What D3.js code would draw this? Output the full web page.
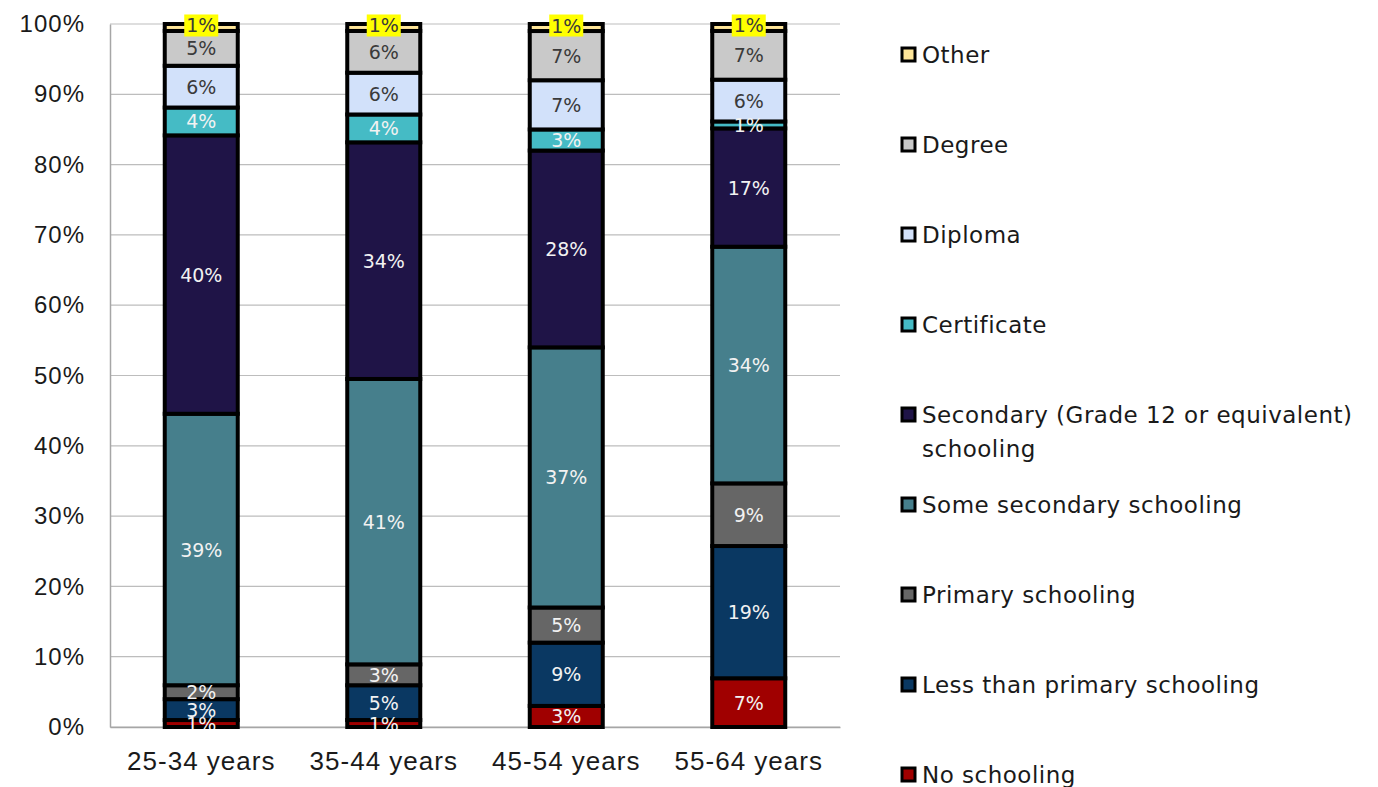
<!DOCTYPE html>
<html>
<head>
<meta charset="utf-8">
<script src="https://cdn.jsdelivr.net/npm/d3@7"></script>
<style>
  html, body { margin: 0; padding: 0; background: #fff; }
  svg { display: block; font-family: "DejaVu Sans", sans-serif; }
</style>
</head>
<body>
<svg id="chart" width="1378" height="787"></svg>
<script>
// Age groups along the x axis
const ageGroups = ["25-34 years", "35-44 years", "45-54 years", "55-64 years"];

// Education levels, stacked bottom to top
const levels = [
  "No schooling",
  "Less than primary schooling",
  "Primary schooling",
  "Some secondary schooling",
  "Secondary (Grade 12 or equivalent) schooling",
  "Certificate",
  "Diploma",
  "Degree",
  "Other"
];

// Share (%) of each level per age group
const noSchooling      = [1, 1, 3, 7];
const lessThanPrimary  = [3, 5, 9, 19];
const primary          = [2, 3, 5, 9];
const someSecondary    = [39, 41, 37, 34];
const secondary        = [40, 34, 28, 17];
const certificate      = [4, 4, 3, 1];
const diploma          = [6, 6, 7, 6];
const degree           = [5, 6, 7, 7];
const other            = [1, 1, 1, 1];

const yTicks = [0, 0.1, 0.2, 0.3, 0.4, 0.5, 0.6, 0.7, 0.8, 0.9, 1.0];

const colors = ["#A00000", "#0A3862", "#666666", "#467F8C", "#1F1447",
                "#45BBC5", "#D2E1FA", "#C9C9C9", "#FFE699"];
const lightText = [false, false, false, false, false, false, true, true, true];

const seriesValues = [noSchooling, lessThanPrimary, primary, someSecondary,
                      secondary, certificate, diploma, degree, other];

const rows = ageGroups.map((g, i) => {
  const r = { group: g };
  levels.forEach((l, k) => { r[l] = seriesValues[k][i]; });
  return r;
});

const stacked = d3.stack().keys(levels).offset(d3.stackOffsetExpand)(rows);

const svg = d3.select("#chart");
const plotLeft = 110, plotRight = 840, plotTop = 24, plotBottom = 727;

const x = d3.scaleBand().domain(ageGroups).range([plotLeft, plotRight])
  .paddingInner(0.6).paddingOuter(0.3);
const y = d3.scaleLinear().domain([0, 1]).range([plotBottom, plotTop]);

// gridlines
svg.append("g").selectAll("line").data(yTicks).join("line")
  .attr("x1", plotLeft).attr("x2", plotRight)
  .attr("y1", d => y(d)).attr("y2", d => y(d))
  .attr("stroke", "#bdbdbd").attr("stroke-width", 1.2);

// y axis
const yAxis = svg.append("g").attr("transform", `translate(${plotLeft},0)`)
  .call(d3.axisLeft(y).tickValues(yTicks).tickFormat(d3.format(".0%")).tickSize(0).tickPadding(25));
yAxis.select(".domain").attr("stroke", "#a6a6a6").attr("stroke-width", 1.5);
yAxis.selectAll("text").attr("font-size", 24).attr("letter-spacing", 1)
  .attr("fill", "#1a1a1a");

// x axis
const xAxis = svg.append("g").attr("transform", `translate(0,${plotBottom})`)
  .call(d3.axisBottom(x).tickSize(0).tickPadding(25));
xAxis.select(".domain").attr("stroke", "#a6a6a6").attr("stroke-width", 1.5);
xAxis.selectAll("text").attr("font-size", 26).attr("letter-spacing", 1)
  .attr("fill", "#1a1a1a");

// stacked segments
const layers = svg.append("g").selectAll("g").data(stacked).join("g")
  .attr("fill", (d, i) => colors[i]);
layers.selectAll("rect").data(d => d).join("rect")
  .attr("x", d => x(d.data.group))
  .attr("width", x.bandwidth())
  .attr("y", d => y(d[1]))
  .attr("height", d => y(d[0]) - y(d[1]))
  .attr("stroke", "#000").attr("stroke-width", 4);

// value labels
svg.append("defs").append("clipPath").attr("id", "lblclip")
  .append("rect").attr("x", 0).attr("y", 0).attr("width", 1378).attr("height", plotBottom + 2);

const lbl = svg.append("g").attr("clip-path", "url(#lblclip)");
stacked.forEach((layer, k) => {
  layer.forEach((d, i) => {
    const cx = x(d.data.group) + x.bandwidth() / 2;
    let cy = (y(d[0]) + y(d[1])) / 2;
    const txt = seriesValues[k][i] + "%";
    if (k === levels.length - 1) {
      cy -= 2;
      const w = 34, h = 22;
      lbl.append("rect").attr("x", cx - w / 2).attr("y", cy - h / 2)
        .attr("width", w).attr("height", h).attr("fill", "#FFFF00");
    }
    lbl.append("text").attr("x", cx).attr("y", cy)
      .attr("text-anchor", "middle").attr("dominant-baseline", "central")
      .attr("font-size", 19)
      .attr("fill", lightText[k] ? "#3a3a3a" : "#f2f2f2")
      .text(txt);
  });
});

// legend (top to bottom: Other ... No schooling)
const legendItems = levels.map((l, i) => ({ label: l, color: colors[i] })).reverse();
const lg = svg.append("g");
legendItems.forEach((item, j) => {
  const cy = 55 + j * 90;
  lg.append("rect").attr("x", 902).attr("y", cy - 7).attr("width", 13).attr("height", 13)
    .attr("fill", item.color).attr("stroke", "#000").attr("stroke-width", 3);
  const t = lg.append("text").attr("x", 922).attr("y", cy)
    .attr("dominant-baseline", "central").attr("font-size", 23)
    .attr("letter-spacing", 0.5).attr("fill", "#1a1a1a");
  if (item.label.startsWith("Secondary")) {
    t.append("tspan").attr("x", 922).text("Secondary (Grade 12 or equivalent)");
    t.append("tspan").attr("x", 922).attr("dy", 34).text("schooling");
  } else {
    t.text(item.label);
  }
});
</script>
</body>
</html>
